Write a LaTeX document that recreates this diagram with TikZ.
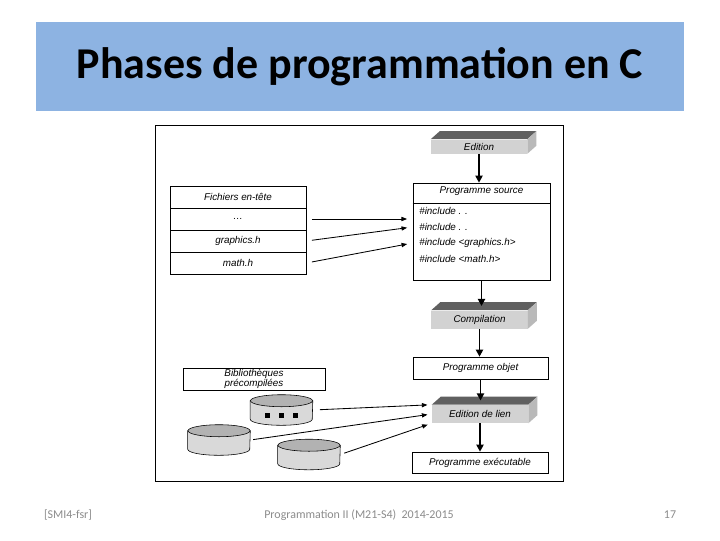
\documentclass[tikz,border=0pt]{standalone}
\usepackage{fontspec}
\setmainfont{Liberation Sans}
\newfontfamily\slidefont{Carlito}
\usetikzlibrary{arrows.meta,calc}
\definecolor{bannerblue}{HTML}{8DB3E2}
\definecolor{footgray}{HTML}{8C8C8C}

\begin{document}
\begin{tikzpicture}[x=0.025cm, y=-0.025cm,
  every node/.style={font=\fontsize{7}{8}\selectfont\itshape, inner sep=0pt},
  box/.style={draw, fill=white, thin},
  bar/.style={fill=gray!35, minimum width=2.4cm, minimum height=0.45cm},
  flow/.style={-{Triangle[length=5pt,width=5pt]}, line width=1.4pt},
  feed/.style={-{Triangle[length=4pt,width=3pt]}, semithick},
  drum/.style={minimum width=1.55cm, minimum height=0.75cm},
  foot/.style={font=\slidefont\fontsize{8.5}{10}\selectfont, text=footgray}]
\fill[white] (0,0) rectangle (720,540);
% banner
\node[fill=bannerblue, minimum width=16.2cm, minimum height=2.225cm,
  font=\slidefont\bfseries\fontsize{31.3}{37}\selectfont] (title) at (360,66.5) {Phases de programmation en C};
\draw[fill=white] (155,125) rectangle (563,481);
% steps
\node[bar, minimum height=0.35cm] (edit) at (479,146.5) {Edition};
\node[box, minimum width=3.425cm, minimum height=2.425cm] (src) at (481.5,231.5) {};
\node (srctitle) at (481.5,191) {Programme source};
\draw ($(src.north west)+(0,21)$) -- ($(src.north east)+(0,21)$);
\foreach \i/\y/\t in {1/211/{\#include . .},2/227/{\#include . .},3/243/{\#include <graphics.h>},4/259/{\#include <math.h>}}
  \node[anchor=west] (inc\i) at (419,\y) {\t};
\node[bar] (comp) at (479.5,319.5) {Compilation};
\node[box, minimum width=3.375cm, minimum height=0.55cm] (obj) at (480.5,368) {Programme objet};
\node[bar] (linker) at (480,414) {Edition de lien};
\node[box, minimum width=3.4cm, minimum height=0.525cm] (exe) at (480,462.5) {Programme exécutable};
% 3d faces
\foreach \n in {edit,comp,linker} {
  \fill[gray!75!black] (\n.north west) -- ++(9,-8) -- ($(\n.north east)+(9,-8)$) -- (\n.north east) -- cycle;
  \fill[gray!55] (\n.north east) -- ++(9,-8) -- ($(\n.south east)+(9,-8)$) -- (\n.south east) -- cycle;
}
% header files
\foreach \i/\y/\t in {0/197/{Fichiers en-tête},1/219/{\ldots},2/241/{graphics.h},3/263/{math.h}}
  \node[box, minimum width=3.4cm, minimum height=0.55cm] (hdr\i) at (238,\y) {\t};
% libraries
\node[box, minimum width=3.55cm, minimum height=0.55cm, align=center] (libs) at (254,379) {\raisebox{-2pt}{Bibliothèques}\\précompilées};
\foreach \n/\x/\y in {lib1/281.5/410,lib2/219/440,lib3/309/454.5}
  \node[drum] (\n) at (\x,\y) {};
\foreach \n in {lib1,lib2,lib3} {
  \filldraw[fill=gray!30] ($(\n.north west)+(0,6)$) -- ($(\n.south west)+(0,-6)$)
    arc[start angle=180, end angle=360, x radius=0.775cm, y radius=0.15cm] -- ($(\n.north east)+(0,6)$) -- cycle;
  \filldraw[fill=gray!60] ($(\n.north)+(0,6)$) ellipse [x radius=0.775cm, y radius=0.15cm];
}
\foreach \dx in {-14,0,14}
  \fill ($(lib1.center)+(\dx,5)$) ++(-2.5,-2.5) rectangle ++(5,5);
% arrows
\draw[flow] (edit.south) -- (edit.south |- src.north);
\draw[flow, shorten >=3pt] (src.south) -- (src.south |- comp.north);
\draw[flow] (comp.south) -- (comp.south |- obj.north);
\draw[flow, shorten >=3pt] (obj.south) -- (obj.south |- linker.north);
\draw[flow] (linker.south) -- (linker.south |- exe.north);
\draw[feed, shorten <=4pt, shorten >=4pt] (hdr1.east) -- (hdr1.east -| src.west);
\draw[feed, shorten <=4pt, shorten >=4pt] (hdr2.east) -- (src.west |- inc2.west);
\draw[feed, shorten <=4pt, shorten >=4pt] (hdr3.east) -- (src.west |- inc3.west);
\draw[feed, shorten <=5pt, shorten >=3pt] (lib1.east) -- (linker.north west);
\draw[feed, shorten <=2pt, shorten >=3pt] (lib2.east) -- (linker.west);
\draw[feed, shorten <=3pt, shorten >=3pt] (lib3.east) -- (linker.south west);
% footer
\node[foot] (foot1) at (68,515) {[SMI4-fsr]};
\node[foot] (foot2) at (359,515) {Programmation II (M21-S4)\ \ 2014-2015};
\node[foot] (foot3) at (670,515) {17};
\end{tikzpicture}
\end{document}
